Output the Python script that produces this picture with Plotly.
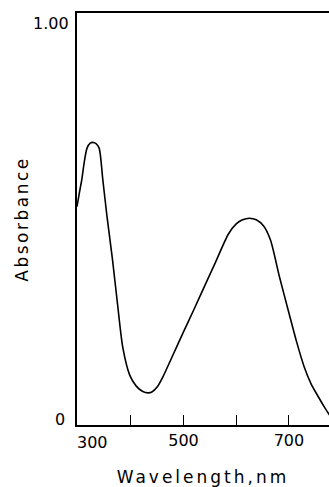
import plotly.graph_objects as go

wavelength_nm = [298, 302, 307, 312, 317, 323, 328, 334, 340, 347, 355, 365, 375, 385,
                 398, 410, 422, 433, 440, 450, 461, 480, 500, 520, 540, 560, 585,
                 600, 612, 625, 638, 652, 665, 682, 700, 715, 729, 742, 756, 767, 777]
absorbance = [0.53, 0.56, 0.595, 0.64, 0.672, 0.684, 0.686, 0.683, 0.672, 0.595, 0.505,
              0.405, 0.292, 0.187, 0.121, 0.095, 0.082, 0.078, 0.08, 0.092, 0.117, 0.17,
              0.226, 0.281, 0.337, 0.393, 0.463, 0.488, 0.498, 0.502, 0.498, 0.483,
              0.449, 0.36, 0.272, 0.2, 0.141, 0.1, 0.068, 0.044, 0.024]

x_tick_vals = [400, 500, 600, 700]
x_tick_text = ["", "500", "", "700"]
y_tick_vals = [0, 1.0]
y_tick_text = ["0", "1.00"]

FONT = "DejaVu Sans"

fig = go.Figure()
fig.add_trace(go.Scatter(
    x=wavelength_nm, y=absorbance, mode="lines",
    line=dict(color="black", width=1.6, shape="spline", smoothing=0.7),
    hoverinfo="skip", showlegend=False,
))

annotations = [dict(
    x=328, y=0, xref="x", yref="y", text="300", showarrow=False,
    yanchor="top", yshift=-6, font=dict(family=FONT, size=16),
)]
# y tick labels, placed as in the reference (slightly inside the axis span)
y_label_shift = {0: 6, 1.0: -10}
y_label_xshift = {0: -10, 1.0: -6}
for v, t in zip(y_tick_vals, y_tick_text):
    annotations.append(dict(
        x=0, y=v, xref="paper", yref="y", text=t, showarrow=False,
        xanchor="right", yanchor="middle", xshift=y_label_xshift[v],
        yshift=y_label_shift[v], font=dict(family=FONT, size=16),
    ))

fig.update_layout(
    width=329, height=487,
    margin=dict(l=77, r=0, t=13, b=62),
    paper_bgcolor="white", plot_bgcolor="white",
    font=dict(family=FONT, color="black", size=16),
    xaxis=dict(
        range=[298, 776], showgrid=False, zeroline=False,
        showline=True, mirror=True, linecolor="black", linewidth=1.6,
        tickmode="array", tickvals=x_tick_vals, ticktext=x_tick_text,
        ticks="inside", ticklen=10, tickwidth=1.3, tickcolor="black",
        tickfont=dict(family=FONT, size=16),
        title=dict(text="Wavelength,nm", font=dict(family=FONT, size=17), standoff=22),
    ),
    yaxis=dict(
        range=[0, 1.0], showgrid=False, zeroline=False,
        showline=True, mirror=False, linecolor="black", linewidth=1.6,
        tickmode="array", tickvals=y_tick_vals, ticktext=y_tick_text,
        showticklabels=False, ticks="",
        title=dict(text="Absorbance", font=dict(family=FONT, size=17), standoff=42),
    ),
    annotations=annotations,
)

post = (
    "document.body.style.margin='0';"
    "document.querySelectorAll('.xtitle').forEach(function(e){"
    "e.style.letterSpacing='3px';});"
    "document.querySelectorAll('.ytitle').forEach(function(e){"
    "e.style.letterSpacing='2.5px';});"
)

fig.write_html("out.html", post_script=post, config={"displayModeBar": False})
